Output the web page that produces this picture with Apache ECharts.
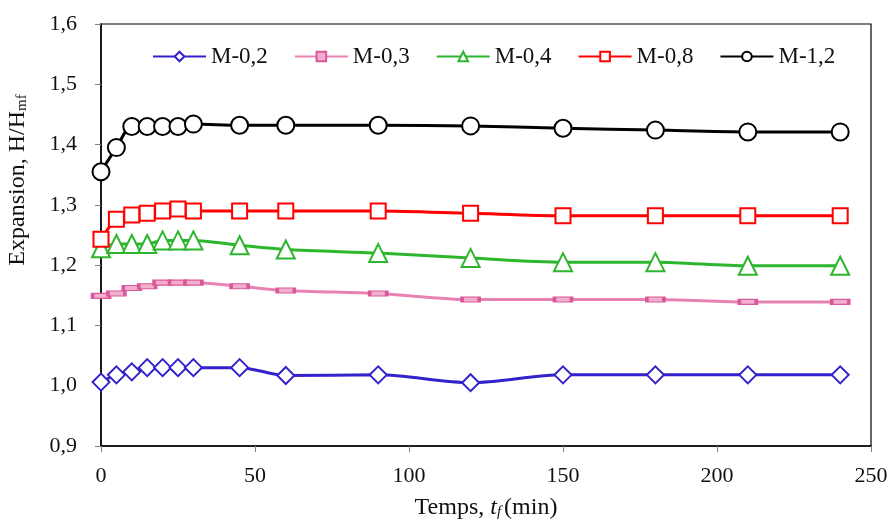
<!DOCTYPE html>
<html>
<head>
<meta charset="utf-8">
<script src="https://cdn.jsdelivr.net/npm/echarts@6/dist/echarts.min.js"></script>
<style>
  html, body { margin: 0; padding: 0; background: #fff; }
  #chart { width: 893px; height: 522px; }
</style>
</head>
<body>
<div id="chart"></div>
<script>
// Sampling times (min)
const times = [0, 5, 10, 15, 20, 25, 30, 45, 60, 90, 120, 150, 180, 210, 240];

// Bed expansion ratio H/Hmf for each sample
const m02 = [1.006, 1.018, 1.023, 1.030, 1.030, 1.030, 1.030, 1.030, 1.017, 1.018, 1.005, 1.018, 1.018, 1.018, 1.018];
const m03 = [1.149, 1.153, 1.162, 1.165, 1.171, 1.171, 1.171, 1.165, 1.158, 1.153, 1.143, 1.143, 1.143, 1.139, 1.139];
const m04 = [1.228, 1.235, 1.235, 1.235, 1.241, 1.241, 1.241, 1.233, 1.226, 1.220, 1.212, 1.205, 1.205, 1.199, 1.199];
const m08 = [1.243, 1.276, 1.283, 1.286, 1.290, 1.293, 1.290, 1.290, 1.290, 1.290, 1.286, 1.282, 1.282, 1.282, 1.282];
const m12 = [1.355, 1.395, 1.430, 1.430, 1.430, 1.430, 1.434, 1.432, 1.432, 1.432, 1.431, 1.427, 1.424, 1.421, 1.421];

const seriesNames = ['M-0,2', 'M-0,3', 'M-0,4', 'M-0,8', 'M-1,2'];

// Axis ticks
const xTicks = [0, 50, 100, 150, 200, 250];
const yTicks = [0.9, 1.0, 1.1, 1.2, 1.3, 1.4, 1.5, 1.6];

const FONT = '"Liberation Serif", "DejaVu Serif", serif';

function pairs(ys) {
  return times.map((t, i) => [t, ys[i]]);
}

function lineSeries(name, ys, color, symbol, size, markerColor, markerFill) {
  return {
    name: name,
    type: 'line',
    data: pairs(ys),
    smooth: 0.3,
    symbol: symbol,
    symbolSize: size,
    showAllSymbol: true,
    lineStyle: { color: color, width: 3 },
    itemStyle: { color: markerFill, borderColor: markerColor, borderWidth: 2 },
    emphasis: { disabled: true },
    animation: false
  };
}

const chart = echarts.init(document.getElementById('chart'), null, { renderer: 'canvas' });

chart.setOption({
  backgroundColor: '#ffffff',
  animation: false,
  grid: {
    left: 101, right: 22, top: 24, bottom: 76,
    containLabel: false,
    outerBoundsMode: 'none',
    show: true, borderColor: '#000', borderWidth: 1.2, backgroundColor: 'transparent'
  },
  legend: {
    data: seriesNames,
    left: 147,
    top: 40,
    itemWidth: 53,
    itemHeight: 12,
    itemGap: 26,
    textStyle: { fontFamily: FONT, fontSize: 23, color: '#111', padding: [0, 0, 0, 0] }
  },
  xAxis: {
    type: 'value',
    min: xTicks[0],
    max: xTicks[xTicks.length - 1],
    interval: xTicks[1] - xTicks[0],
    axisLine: { show: true, lineStyle: { color: '#000', width: 1.5 } },
    axisTick: { show: true, length: 6, lineStyle: { color: '#808080', width: 1 } },
    splitLine: { show: false },
    axisLabel: { fontFamily: FONT, fontSize: 22, color: '#111', margin: 19 },
    name: '{n|Temps, }{i|t}{s|f}{n|(min)}',
    nameLocation: 'middle',
    nameGap: 50,
    nameTextStyle: {
      rich: {
        n: { fontFamily: FONT, fontSize: 24, color: '#111' },
        i: { fontFamily: FONT, fontSize: 24, fontStyle: 'italic', color: '#111' },
        s: { fontFamily: FONT, fontSize: 15, fontStyle: 'italic', color: '#111', verticalAlign: 'bottom', padding: [9, 3, 0, 0] }
      }
    }
  },
  yAxis: {
    type: 'value',
    min: yTicks[0],
    max: yTicks[yTicks.length - 1],
    interval: 0.1,
    axisLine: { show: true, lineStyle: { color: '#000', width: 1.5 } },
    axisTick: { show: true, length: 6, lineStyle: { color: '#808080', width: 1 } },
    splitLine: { show: false },
    axisLabel: {
      fontFamily: FONT, fontSize: 22, color: '#111', margin: 24,
      formatter: v => v.toFixed(1).replace('.', ',')
    },
    name: '{n|Expansion, H/H}{s|mf}',
    nameLocation: 'middle',
    nameGap: 71,
    nameRotate: 90,
    nameTextStyle: {
      padding: [0, 0, 0, 110],
      rich: {
        n: { fontFamily: FONT, fontSize: 24, color: '#111' },
        s: { fontFamily: FONT, fontSize: 15, color: '#111', verticalAlign: 'bottom', padding: [9, 0, 0, 0] }
      }
    }
  },
  series: [
    lineSeries(seriesNames[0], m02, '#3322CC', 'diamond', 17, '#3322CC', '#ffffff'),
    lineSeries(seriesNames[1], m03, '#E683B3', 'rect', [17, 5], '#D9589A', '#F2AFCD'),
    lineSeries(seriesNames[2], m04, '#2DB52D', 'triangle', 18, '#2DB52D', '#ffffff'),
    lineSeries(seriesNames[3], m08, '#FF0000', 'rect', 15, '#FF0000', '#ffffff'),
    lineSeries(seriesNames[4], m12, '#000000', 'circle', 17, '#000000', '#ffffff')
  ]
});
</script>
</body>
</html>
